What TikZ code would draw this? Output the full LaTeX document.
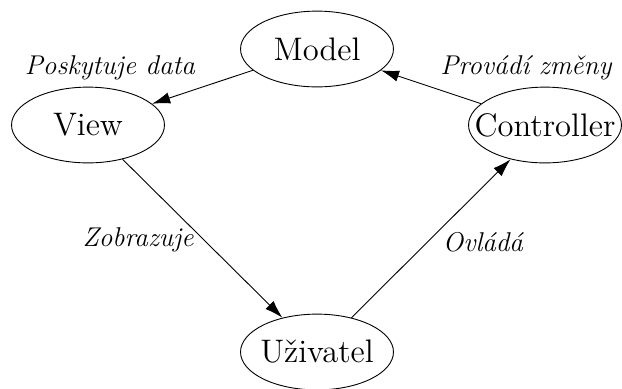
\documentclass[tikz,border=0pt]{standalone}
\usetikzlibrary{shapes.geometric,arrows.meta}
\begin{document}
\begin{tikzpicture}[x=0.442pt,y=-0.442pt]
        \tikzset{mvc node/.style={ellipse,draw=black,fill=none,minimum width=67.6pt,minimum height=33.5pt,inner sep=0pt,font=\Large},
                 mvc label/.style={font=\large\itshape,inner sep=0pt},
                 mvc arrow/.style={-{Latex[length=8pt,width=5pt]}}}
        \useasboundingbox (0,0) rectangle (622,388);
        \node[mvc node] (model) at (317,49) {\makebox[0pt]{Model}};
        \node[mvc node] (view) at (88,125) {\makebox[0pt]{View}};
        \node[mvc node] (controller) at (545,125) {\makebox[0pt]{Controller}};
        \node[mvc node] (user) at (317,352) {\makebox[0pt]{Uživatel}};
        \node[mvc label] (datalabel) at (110,68) {Poskytuje data};
        \node[mvc label] (changelabel) at (526,68) {Provádí změny};
        \node[mvc label] (showlabel) at (138,240) {Zobrazuje};
        \node[mvc label] (controllabel) at (483,242) {Ovládá};
        \draw[mvc arrow] (model) -- (view);
        \draw[mvc arrow] (controller) -- (model);
        \draw[mvc arrow] (view) -- (user);
        \draw[mvc arrow] (user) -- (controller);
      \end{tikzpicture}
\end{document}
